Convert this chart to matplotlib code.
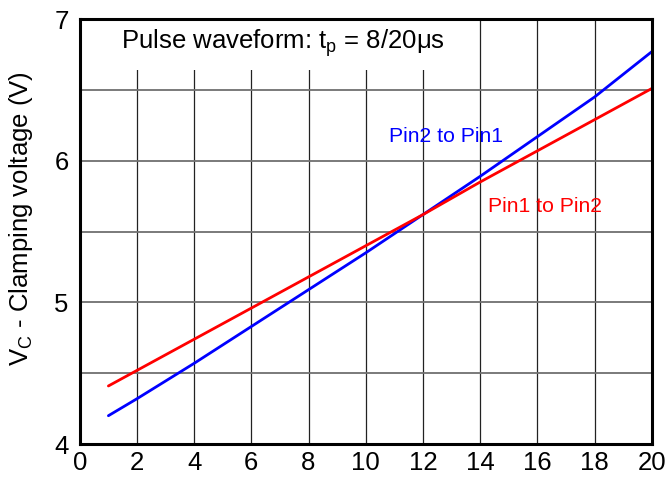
import matplotlib.pyplot as plt
from matplotlib.patches import Rectangle

plt.rcParams['font.family'] = ['Liberation Sans', 'DejaVu Sans']
plt.rcParams['mathtext.fontset'] = 'custom'
plt.rcParams['mathtext.rm'] = 'Liberation Sans'
plt.rcParams['mathtext.it'] = 'Liberation Sans'
plt.rcParams['mathtext.default'] = 'regular'

x_pts = [1, 2, 4, 6, 8, 10, 12, 14, 16, 18, 20]
pin2_to_pin1 = [4.20, 4.32, 4.57, 4.83, 5.09, 5.35, 5.62, 5.89, 6.17, 6.45, 6.77]
pin1_to_pin2 = [4.41, 4.52, 4.74, 4.96, 5.18, 5.40, 5.62, 5.85, 6.07, 6.29, 6.51]
x_ticks = list(range(0, 21, 2))
y_ticks = [4, 5, 6, 7]

fig = plt.figure(figsize=(6.65, 4.79), dpi=100)
ax = fig.add_axes([0.120, 0.073, 0.860, 0.887])

ax.set_xlim(0, 20)
ax.set_ylim(4, 7)
ax.set_xticks(x_ticks)
ax.set_yticks(y_ticks)
ax.tick_params(which='both', length=0, labelsize=18.5)
ax.tick_params(axis='x', pad=5)
ax.tick_params(axis='y', pad=8)

for xv in x_ticks[1:-1]:
    ax.axvline(xv, color='#222222', lw=0.9, zorder=1)
for yv in [4.5, 5, 5.5, 6, 6.5]:
    ax.axhline(yv, color='#707070', lw=1.3, zorder=1)

# white patch behind the caption
ax.add_patch(Rectangle((0.0, 6.64), 13.0, 0.36, facecolor='white',
                       edgecolor='none', zorder=2))
ax.text(1.45, 6.83, 'Pulse waveform: t$_{p}$ = 8/20\u03bcs', fontsize=18.5,
        va='center', ha='left', zorder=3)

ax.plot(x_pts, pin2_to_pin1, color='#0000ff', lw=2.0, zorder=4,
        solid_capstyle='round')
ax.plot(x_pts, pin1_to_pin2, color='#ff0000', lw=2.0, zorder=4,
        solid_capstyle='round')

ax.text(10.82, 6.17, 'Pin2 to Pin1', color='#0000ff', fontsize=15.2,
        ha='left', va='center', zorder=3)
ax.text(14.28, 5.68, 'Pin1 to Pin2', color='#ff0000', fontsize=15.2,
        ha='left', va='center', zorder=3)

ax.set_ylabel('V$_{C}$ - Clamping voltage (V)', fontsize=18.5)
ax.yaxis.set_label_coords(-0.078, 0.53)

for sp in ax.spines.values():
    sp.set_linewidth(2.2)
    sp.set_zorder(5)

fig.savefig('out.png', dpi=100)
